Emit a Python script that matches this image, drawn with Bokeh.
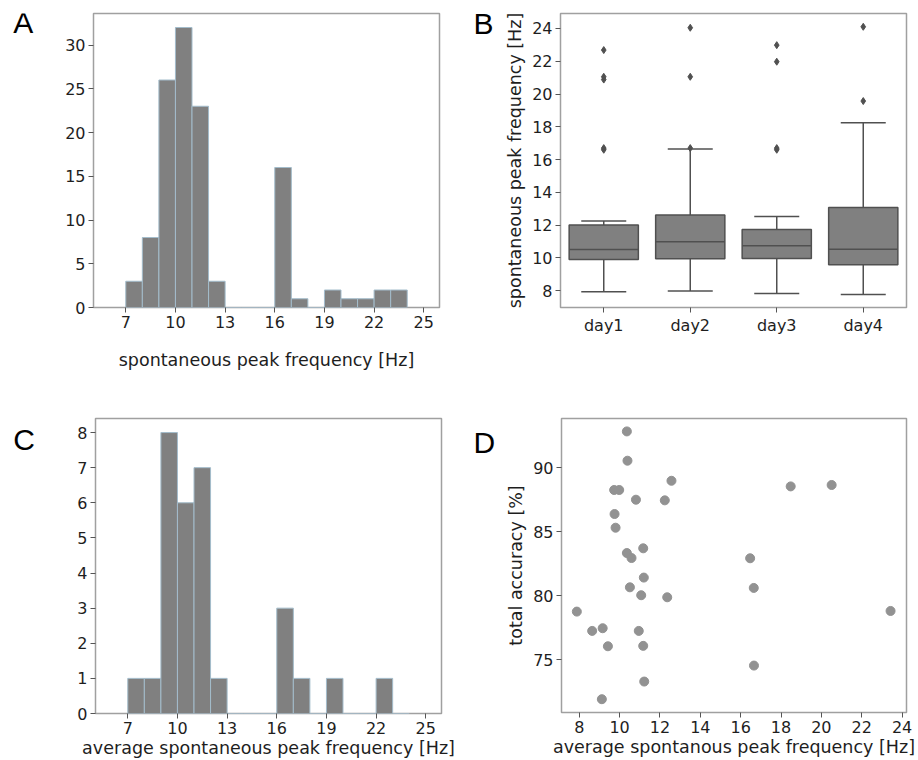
from bokeh.plotting import figure
from bokeh.layouts import row, column
from bokeh.models import (Range1d, FactorRange, FixedTicker, Whisker,
                          TeeHead, ColumnDataSource)
from bokeh.transform import dodge
from bokeh.core.properties import value
from bokeh.embed import file_html
from bokeh.resources import INLINE

# ---------------- data ----------------
# A: histogram of spontaneous peak frequency (all recordings), 1 Hz bins
hist_bin_left = [7, 8, 9, 10, 11, 12, 13, 14, 15, 16, 17, 18, 19, 20, 21, 22, 23]
hist_a_count = [3, 8, 26, 32, 23, 3, 0, 0, 0, 16, 1, 0, 2, 1, 1, 2, 2]
# C: histogram of per-subject average spontaneous peak frequency
hist_c_count = [1, 1, 8, 6, 7, 1, 0, 0, 0, 3, 1, 0, 1, 0, 0, 1, 0]
hist_ticks = [7, 10, 13, 16, 19, 22, 25]
hist_a_yticks = [0, 5, 10, 15, 20, 25, 30]
hist_c_yticks = [0, 1, 2, 3, 4, 5, 6, 7, 8]

# B: box plot per recording day
days = ["day1", "day2", "day3", "day4"]
box_low = [7.94, 7.98, 7.84, 7.78]
box_q1 = [9.91, 9.95, 9.97, 9.59]
box_median = [10.52, 10.99, 10.75, 10.54]
box_q3 = [12.01, 12.62, 11.74, 13.08]
box_high = [12.25, 16.64, 12.53, 18.25]
outlier_day = ["day1", "day1", "day1", "day1", "day1",
               "day2", "day2", "day2",
               "day3", "day3", "day3", "day3",
               "day4", "day4"]
outlier_value = [16.6, 16.7, 20.88, 21.05, 22.68,
                 16.7, 21.05, 24.04,
                 16.6, 16.7, 21.97, 22.98,
                 19.57, 24.1]
box_yticks = [8, 10, 12, 14, 16, 18, 20, 22, 24]

# D: accuracy vs. average spontaneous peak frequency
avg_freq = [10.36, 10.39, 12.57, 18.48, 20.51, 9.73, 9.98, 10.81, 12.24, 9.75,
            9.80, 10.36, 11.17, 10.59, 16.47, 11.20, 10.51, 16.65, 11.07, 12.36,
            7.88, 23.43, 8.64, 9.16, 10.95, 9.42, 11.17, 16.66, 11.22, 9.12]
accuracy = [92.84, 90.55, 88.98, 88.54, 88.65, 88.26, 88.26, 87.50, 87.45, 86.38,
            85.31, 83.33, 83.70, 82.94, 82.92, 81.41, 80.65, 80.60, 80.03, 79.87,
            78.75, 78.80, 77.24, 77.45, 77.24, 76.04, 76.07, 74.53, 73.28, 71.90]
scatter_xticks = [8, 10, 12, 14, 16, 18, 20, 22, 24]
scatter_yticks = [75, 80, 85, 90]

# ---------------- styling ----------------
BAR = "#808080"
BAR_EDGE = "#a3bccb"
BOX_LINE = "#505050"
DOT = "#929292"
TEXT = "#1e1e1e"
FONT = "DejaVu Sans"
TOP_H, BOTTOM_H = 375, 383


def make_fig(x_range, y_range, fw, fh, left, right, top, bottom):
    p = figure(x_range=x_range, y_range=y_range, frame_width=fw, frame_height=fh,
               min_border_left=left, min_border_right=right,
               min_border_top=top, min_border_bottom=bottom,
               toolbar_location=None, output_backend="svg")
    p.grid.visible = False
    p.outline_line_color = "#a0a0a0"
    p.outline_line_width = 1.5
    p.background_fill_color = "white"
    p.border_fill_color = "white"
    p.axis.axis_line_color = None
    p.axis.major_tick_line_color = "#555555"
    p.axis.major_tick_out = 5
    p.axis.major_tick_in = 0
    p.axis.minor_tick_line_color = None
    p.axis.major_label_text_font = FONT
    p.axis.major_label_text_font_size = "16px"
    p.axis.major_label_text_color = TEXT
    p.axis.major_label_standoff = 3
    p.axis.axis_label_text_font = FONT
    p.axis.axis_label_text_font_size = "17.5px"
    p.axis.axis_label_text_font_style = "normal"
    p.axis.axis_label_text_color = TEXT
    return p


def letter_strip(text, width, height, x, mid):
    # narrow axis-less strip that carries the panel letter (mid = pixels from top)
    s = figure(width=width, height=height, x_range=Range1d(0, width),
               y_range=Range1d(0, height), x_axis_type=None, y_axis_type=None,
               title=None, min_border=0, min_border_left=0, min_border_right=0,
               min_border_top=0, min_border_bottom=0,
               toolbar_location=None, output_backend="svg")
    s.grid.visible = False
    s.outline_line_color = None
    s.background_fill_color = "white"
    s.border_fill_color = "white"
    s.text(x=[x], y=[height - mid], text=[text],
           text_font=value("Liberation Sans"), text_font_size="30px",
           text_color="black", text_align="left", text_baseline="middle")
    return s


FW, FH = 346, 294
HX0, HX1 = 5.05, 25.95

# ---------------- A ----------------
pA = make_fig(Range1d(HX0, HX1), Range1d(0, 33.6), FW, FH, 33, 21, 13, 68)
pA.quad(left=hist_bin_left, right=[v + 1 for v in hist_bin_left], bottom=0,
        top=hist_a_count, fill_color=BAR, line_color=BAR_EDGE, line_width=1)
pA.xaxis.ticker = FixedTicker(ticks=hist_ticks)
pA.yaxis.ticker = FixedTicker(ticks=hist_a_yticks)
pA.xaxis.axis_label = "spontaneous peak frequency [Hz]"
pA.xaxis.axis_label_standoff = 19

# ---------------- B ----------------
pB = make_fig(FactorRange(factors=days), Range1d(6.98, 24.91), FW, FH, 60, 12, 13, 68)
box_src = ColumnDataSource(dict(day=days, low=box_low, q1=box_q1, med=box_median,
                                q3=box_q3, high=box_high))
pB.add_layout(Whisker(base="day", lower="low", upper="high", source=box_src,
                      line_color=BOX_LINE, line_width=1.5,
                      lower_head=TeeHead(size=45, line_color=BOX_LINE, line_width=1.5),
                      upper_head=TeeHead(size=45, line_color=BOX_LINE, line_width=1.5)))
pB.vbar(x="day", bottom="q1", top="q3", width=0.8, source=box_src,
        fill_color=BAR, line_color=BOX_LINE, line_width=1.5)
pB.segment(x0=dodge("day", -0.4, range=pB.x_range), x1=dodge("day", 0.4, range=pB.x_range),
           y0="med", y1="med", source=box_src, line_color=BOX_LINE, line_width=1.5)
pB.scatter(x=outlier_day, y=outlier_value, marker="diamond", size=7,
           fill_color=BOX_LINE, line_color=BOX_LINE)
pB.yaxis.ticker = FixedTicker(ticks=box_yticks)
pB.yaxis.axis_label = "spontaneous peak frequency [Hz]"
pB.yaxis.axis_label_standoff = 4

# ---------------- C ----------------
pC = make_fig(Range1d(HX0, HX1), Range1d(0, 8.4), FW, 295, 35, 19, 43, 45)
pC.quad(left=hist_bin_left, right=[v + 1 for v in hist_bin_left], bottom=0,
        top=hist_c_count, fill_color=BAR, line_color=BAR_EDGE, line_width=1)
pC.xaxis.ticker = FixedTicker(ticks=hist_ticks)
pC.yaxis.ticker = FixedTicker(ticks=hist_c_yticks)
pC.xaxis.axis_label = "average spontaneous peak frequency [Hz]"
pC.xaxis.axis_label_standoff = 1

# ---------------- D ----------------
pD = make_fig(Range1d(7.12, 24.22), Range1d(70.86, 93.85), 345, FH, 61, 12, 43, 46)
pD.scatter(x=avg_freq, y=accuracy, size=9, fill_color=DOT, line_color=DOT)
pD.xaxis.ticker = FixedTicker(ticks=scatter_xticks)
pD.yaxis.ticker = FixedTicker(ticks=scatter_yticks)
pD.xaxis.axis_label = "average spontanous peak frequency [Hz]"
pD.xaxis.axis_label_standoff = 1
pD.yaxis.axis_label = "total accuracy [%]"
pD.yaxis.axis_label_standoff = 4

top_row = row(letter_strip("A", 60, TOP_H, 12.7, 12), pA,
              letter_strip("B", 40, TOP_H, 13, 13), pB)
bottom_row = row(letter_strip("C", 60, BOTTOM_H, 12.7, 28), pC,
                 letter_strip("D", 40, BOTTOM_H, 13, 31), pD)
layout = column(top_row, bottom_row)

open("out.html", "w").write(file_html(layout, INLINE))
